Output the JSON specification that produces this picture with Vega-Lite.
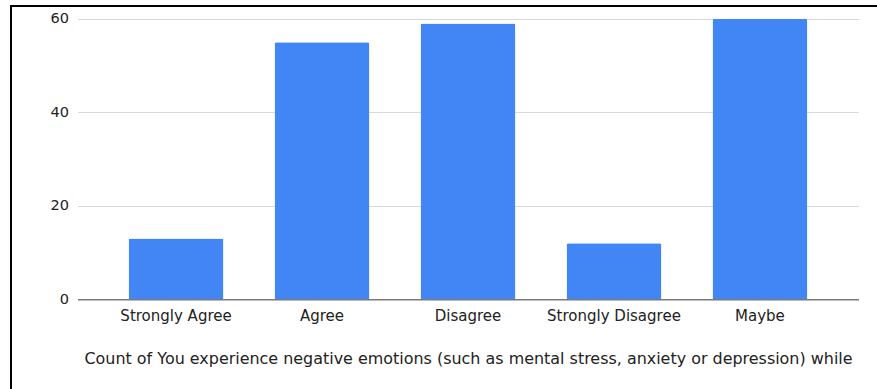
{
  "$schema": "https://vega.github.io/schema/vega-lite/v6.json",
  "autosize": "none",
  "padding": {"left": 11, "top": 6, "right": -14, "bottom": -17},
  "width": 880,
  "height": 400,
  "config": {
    "font": "DejaVu Sans",
    "view": {"stroke": "#000000", "strokeWidth": 2}
  },
  "data": {
    "values": [
      {"response": "Strongly Agree", "count": 13},
      {"response": "Agree", "count": 55},
      {"response": "Disagree", "count": 59},
      {"response": "Strongly Disagree", "count": 12},
      {"response": "Maybe", "count": 60}
    ]
  },
  "mark": {
    "type": "bar",
    "color": "#4285F4",
    "cornerRadiusTopLeft": 2,
    "cornerRadiusTopRight": 2
  },
  "encoding": {
    "x": {
      "field": "response",
      "type": "nominal",
      "sort": null,
      "scale": {"range": [66.5, 847.5], "paddingInner": 0.35, "paddingOuter": 0.35},
      "axis": {
        "orient": "bottom",
        "offset": -106.7,
        "zindex": 1,
        "title": "Count of You experience negative emotions (such as mental stress, anxiety or depression) while",
        "titleFont": "DejaVu Sans",
        "titleFontSize": 15.95,
        "titleFontWeight": "normal",
        "titleColor": "#222222",
        "titlePadding": 27,
        "labelAngle": 0,
        "labelFontSize": 15,
        "labelColor": "#222222",
        "labelPadding": 9,
        "ticks": false,
        "grid": false,
        "domainColor": "#7a7a7a",
        "domainWidth": 1.5
      }
    },
    "y": {
      "field": "count",
      "type": "quantitative",
      "scale": {"domain": [0, 60], "range": [293.3, 12.8], "nice": false},
      "axis": {
        "orient": "left",
        "offset": -66.5,
        "title": null,
        "values": [0, 20, 40, 60],
        "labelFontSize": 14.5,
        "labelColor": "#222222",
        "labelPadding": 9,
        "ticks": false,
        "domain": false,
        "grid": true,
        "gridColor": "#d9d9d9",
        "gridWidth": 1
      }
    }
  }
}
